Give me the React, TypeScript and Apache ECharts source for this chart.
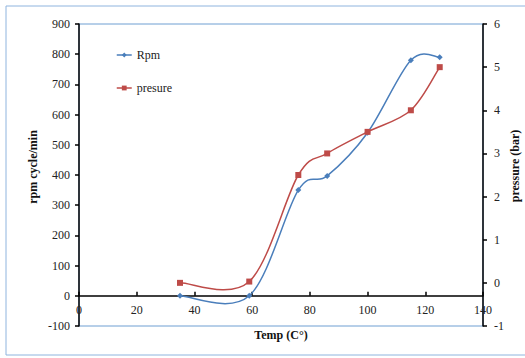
import React, { useEffect, useRef } from "react";
import * as echarts from "echarts";

const temps = [35, 59, 76, 86, 100, 115, 125];
const rpm = [0, 0, 350, 397, 540, 780, 790];
const pressure = [0, 0.03, 2.5, 3, 3.5, 4, 5];
const xTicks = { min: 0, max: 140, interval: 20 };
const leftTicks = { min: -100, max: 900, interval: 100 };
const rightTicks = { min: -1, max: 6, interval: 1 };

const FONT = "Liberation Serif";
const W = 525;
const H = 358;
const GRID = { left: 79, right: 42, top: 24, bottom: 32 };

// Excel-like smooth curve (cardinal spline, 1/6 tension) through pixel points
function smoothPath(pts: number[][]): string {
  let d = `M${pts[0][0]},${pts[0][1]}`;
  for (let i = 0; i < pts.length - 1; i++) {
    const p0 = pts[Math.max(i - 1, 0)];
    const p1 = pts[i];
    const p2 = pts[i + 1];
    const p3 = pts[Math.min(i + 2, pts.length - 1)];
    const c1x = p1[0] + (p2[0] - p0[0]) / 6;
    const c1y = p1[1] + (p2[1] - p0[1]) / 6;
    const c2x = p2[0] - (p3[0] - p1[0]) / 6;
    const c2y = p2[1] - (p3[1] - p1[1]) / 6;
    d += ` C${c1x},${c1y} ${c2x},${c2y} ${p2[0]},${p2[1]}`;
  }
  return d;
}

function curveSeries(name: string, ys: number[], yAxisIndex: number, color: string) {
  return {
    name,
    type: "custom",
    yAxisIndex,
    data: [[temps[0], ys[0]]],
    silent: true,
    z: 2,
    renderItem: (params: any, api: any) => {
      const pts = temps.map((t, i) => api.coord([t, ys[i]]));
      return {
        type: "path",
        shape: { pathData: smoothPath(pts) },
        style: { fill: "none", stroke: color, lineWidth: 1.5 },
      };
    },
  };
}

export default function App() {
  const ref = useRef<HTMLDivElement>(null);
  useEffect(() => {
    if (!ref.current) return;
    const chart = echarts.init(ref.current, undefined, { renderer: "svg" });
    const labelStyle = { fontFamily: FONT, fontSize: 12, color: "#222" };
    const plotH = H - GRID.top - GRID.bottom;
    const xOffset = -((0 - leftTicks.min) / (leftTicks.max - leftTicks.min)) * plotH;
    const titleStyle = {
      fontFamily: FONT,
      fontSize: 12,
      fontWeight: "bold",
      fill: "#111",
      align: "center",
      verticalAlign: "middle",
    };
    chart.setOption({
      animation: false,
      backgroundColor: "#fff",
      textStyle: { fontFamily: FONT },
      grid: {
        ...GRID,
        show: true,
        borderColor: "#6f9fd2",
        borderWidth: 1,
      },
      graphic: [
        {
          type: "rect",
          shape: { x: 6, y: 6, width: 540, height: 349 },
          style: { fill: "none", stroke: "#8fb4de", lineWidth: 1 },
          silent: true,
          z: -1,
        },
        {
          type: "text",
          x: 33,
          y: 167,
          rotation: Math.PI / 2,
          style: { ...titleStyle, text: "rpm cycle/min" },
        },
        {
          type: "text",
          x: 515,
          y: 166,
          rotation: Math.PI / 2,
          style: { ...titleStyle, text: "pressure (bar)" },
        },
        {
          type: "text",
          x: 281,
          y: 335,
          style: { ...titleStyle, text: "Temp (C°)" },
        },
      ],
      legend: {
        left: 111,
        top: 44,
        orient: "vertical",
        itemGap: 21,
        itemWidth: 15,
        itemHeight: 6,
        lineStyle: { opacity: 1, width: 1.5 },
        textStyle: { fontFamily: FONT, fontSize: 12, color: "#222" },
        data: ["Rpm", "presure"],
      },
      xAxis: {
        type: "value",
        min: xTicks.min,
        max: xTicks.max,
        interval: xTicks.interval,
        position: "bottom",
        offset: xOffset,
        axisLine: { show: true, onZero: false, lineStyle: { color: "#000", width: 1.5 } },
        axisTick: { show: true, inside: true, length: 4, lineStyle: { color: "#000", width: 1.5 } },
        axisLabel: { ...labelStyle, margin: 8 },
        splitLine: { show: false },
      },
      yAxis: [
        {
          type: "value",
          min: leftTicks.min,
          max: leftTicks.max,
          interval: leftTicks.interval,
          position: "left",
          axisLine: { show: true, onZero: false, lineStyle: { color: "#000", width: 1.5 } },
          axisTick: { show: true, length: 4, lineStyle: { color: "#000", width: 1.5 } },
          axisLabel: { ...labelStyle, margin: 9 },
          splitLine: { show: false },
        },
        {
          type: "value",
          min: rightTicks.min,
          max: rightTicks.max,
          interval: rightTicks.interval,
          position: "right",
          axisLine: { show: true, onZero: false, lineStyle: { color: "#000", width: 1.5 } },
          axisTick: { show: true, length: 4, lineStyle: { color: "#000", width: 1.5 } },
          axisLabel: { ...labelStyle, margin: 11 },
          splitLine: { show: false },
        },
      ],
      series: [
        curveSeries("Rpm curve", rpm, 0, "#4a7ebb"),
        curveSeries("presure curve", pressure, 1, "#be4b48"),
        {
          name: "Rpm",
          type: "line",
          yAxisIndex: 0,
          symbol: "diamond",
          symbolSize: 6,
          color: "#4a7ebb",
          lineStyle: { width: 1.5, color: "#4a7ebb", opacity: 0 },
          itemStyle: { color: "#4a7ebb" },
          data: temps.map((t, i) => [t, rpm[i]]),
          z: 3,
        },
        {
          name: "presure",
          type: "line",
          yAxisIndex: 1,
          symbol: "rect",
          symbolSize: 6,
          color: "#be4b48",
          lineStyle: { width: 1.5, color: "#be4b48", opacity: 0 },
          itemStyle: { color: "#be4b48" },
          data: temps.map((t, i) => [t, pressure[i]]),
          z: 4,
        },
      ],
    });
    return () => chart.dispose();
  }, []);
  return <div ref={ref} style={{ position: "fixed", left: 0, top: 0, width: W, height: H }} />;
}
